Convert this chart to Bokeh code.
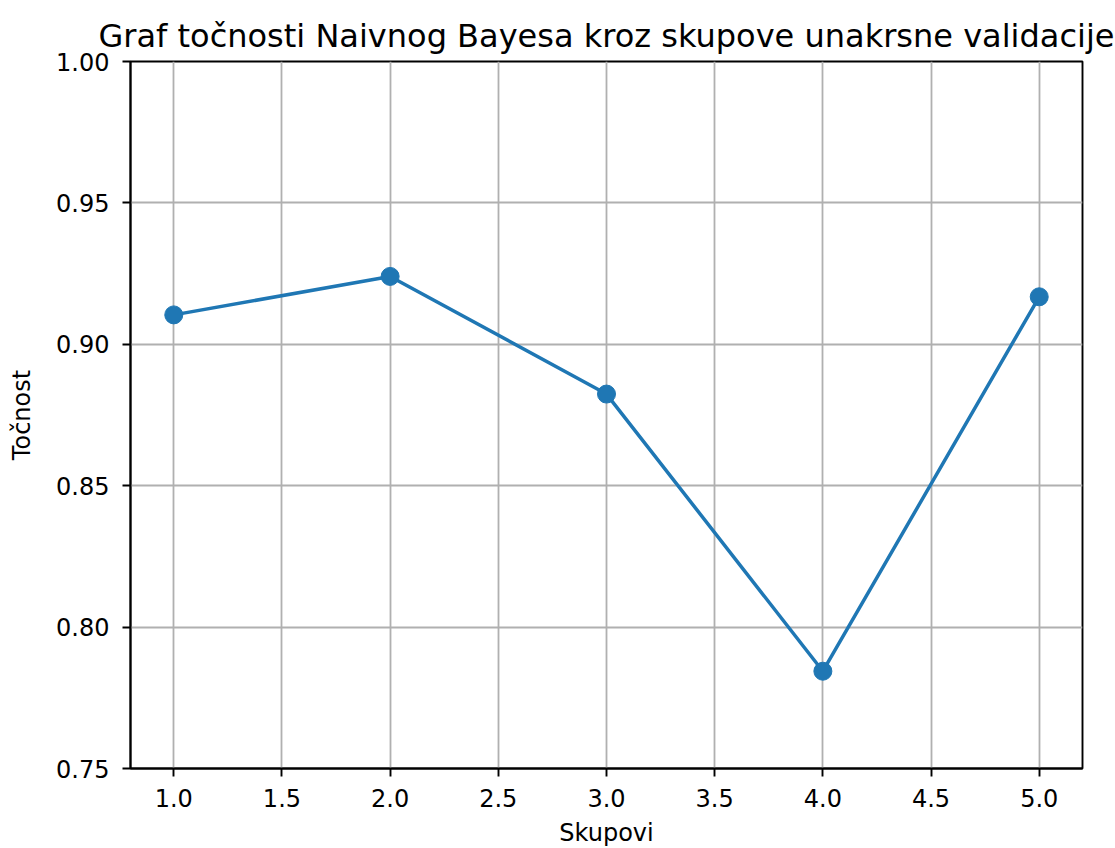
from bokeh.plotting import figure
from bokeh.models import FixedTicker, NumeralTickFormatter, Range1d
from bokeh.embed import file_html
from bokeh.resources import INLINE

skupovi = [1, 2, 3, 4, 5]
tocnost = [0.9104, 0.9240, 0.8824, 0.7844, 0.9168]
x_ticks = [1.0, 1.5, 2.0, 2.5, 3.0, 3.5, 4.0, 4.5, 5.0]
y_ticks = [0.75, 0.80, 0.85, 0.90, 0.95, 1.00]

FONT = "DejaVu Sans"

p = figure(
    width=1115, height=848,
    frame_width=952, frame_height=707,
    x_range=Range1d(0.8, 5.2), y_range=Range1d(0.75, 1.0),
    output_backend="svg", toolbar_location=None,
    title="Graf točnosti Naivnog Bayesa kroz skupove unakrsne validacije",
    min_border_left=130, min_border_right=33, min_border_top=61, min_border_bottom=80,
)

p.title.text_font = FONT
p.title.text_font_size = "32px"
p.title.text_font_style = "normal"
p.title.align = "center"
p.title.text_color = "#000000"
p.title.standoff = 14

p.outline_line_color = "#000000"
p.outline_line_width = 1.9
p.background_fill_color = "white"
p.border_fill_color = "white"

for ax in (p.xaxis[0], p.yaxis[0]):
    ax.axis_line_color = "#000000"
    ax.axis_line_width = 1.9
    ax.major_tick_line_color = "#000000"
    ax.major_tick_line_width = 1.9
    ax.major_tick_out = 8
    ax.major_tick_in = 0
    ax.minor_tick_line_color = None
    ax.major_label_text_font = FONT
    ax.major_label_text_font_size = "24px"
    ax.major_label_text_color = "#000000"
    ax.axis_label_text_font = FONT
    ax.axis_label_text_font_size = "24px"
    ax.axis_label_text_font_style = "normal"
    ax.axis_label_text_color = "#000000"

p.xaxis.major_label_standoff = 12
p.yaxis.major_label_standoff = 13
p.xaxis.ticker = FixedTicker(ticks=x_ticks)
p.yaxis.ticker = FixedTicker(ticks=y_ticks)
p.xaxis.formatter = NumeralTickFormatter(format="0.0")
p.yaxis.formatter = NumeralTickFormatter(format="0.00")
p.xaxis.axis_label = "Skupovi"
p.yaxis.axis_label = "Točnost"
p.xaxis.axis_label_standoff = 9
p.yaxis.axis_label_standoff = 17

p.xgrid.ticker = FixedTicker(ticks=x_ticks)
p.ygrid.ticker = FixedTicker(ticks=y_ticks)
for g in (p.xgrid[0], p.ygrid[0]):
    g.grid_line_color = "#b0b0b0"
    g.grid_line_width = 1.8

p.line(skupovi, tocnost, line_color="#1f77b4", line_width=3.5)
p.scatter(skupovi, tocnost, size=18, fill_color="#1f77b4", line_color="#1f77b4")

open("out.html", "w").write(file_html(p, INLINE))
